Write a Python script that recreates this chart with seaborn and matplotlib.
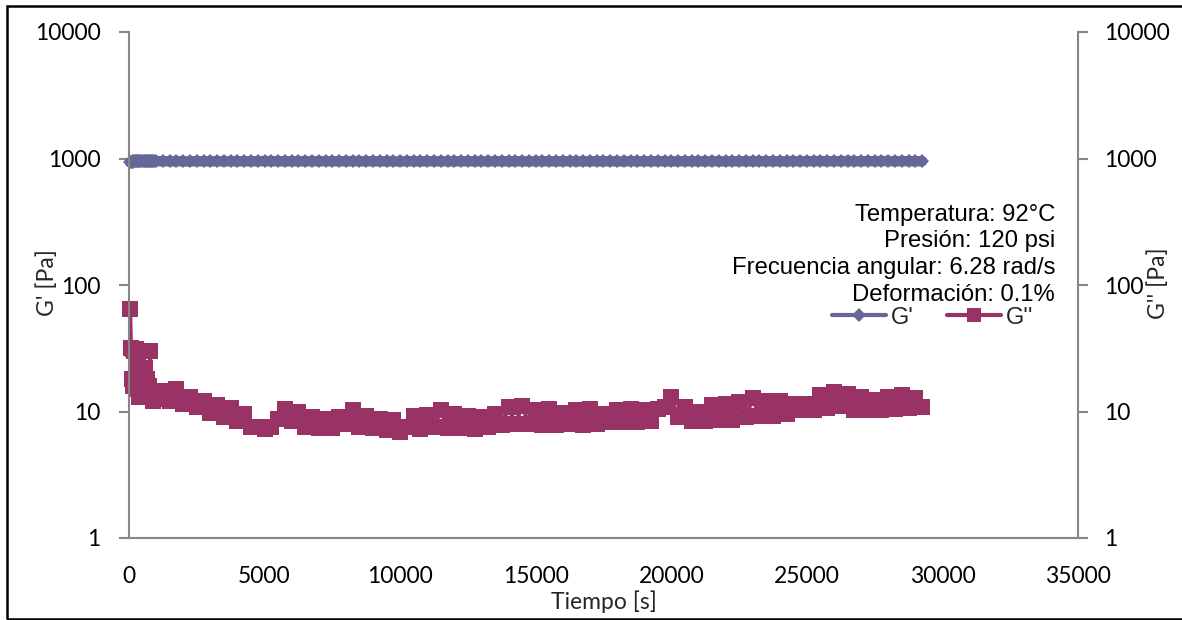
import numpy as np
import pandas as pd
import matplotlib
matplotlib.use("Agg")
import matplotlib.pyplot as plt
from matplotlib.patches import Rectangle
from matplotlib.lines import Line2D
from matplotlib.ticker import FixedLocator, FuncFormatter, NullLocator
import seaborn as sns

# ---------------- data ----------------
time_s = [40, 70, 100, 130, 160, 190, 220, 260, 300, 340, 380, 420, 460, 500, 540, 580, 620, 660, 700, 740,
          780, 820, 860, 900, 940,
          1000, 1250, 1500, 1750, 2000, 2250, 2500, 2750, 3000, 3250, 3500, 3750, 4000, 4250, 4500, 4750,
          5000, 5250, 5500, 5750, 6000, 6250, 6500, 6750, 7000, 7250, 7500, 7750, 8000, 8250, 8500, 8750,
          9000, 9250, 9500, 9750, 10000, 10250, 10500, 10750, 11000, 11250, 11500, 11750, 12000, 12250, 12500, 12750,
          13000, 13250, 13500, 13750, 14000, 14250, 14500, 14750, 15000, 15250, 15500, 15750, 16000, 16250, 16500, 16750,
          17000, 17250, 17500, 17750, 18000, 18250, 18500, 18750, 19000, 19250, 19500, 19750, 20000, 20250, 20500, 20750,
          21000, 21250, 21500, 21750, 22000, 22250, 22500, 22750, 23000, 23250, 23500, 23750, 24000, 24250, 24500, 24750,
          25000, 25250, 25500, 25750, 26000, 26250, 26500, 26750, 27000, 27250, 27500, 27750, 28000, 28250, 28500, 28750,
          29000, 29250]

g_storage = [930, 935, 940, 945, 948, 950, 948, 952, 950, 947, 951, 949, 953, 950, 948, 952, 950, 949, 951, 950,
             952, 949, 951, 950, 953,
             950, 954, 948, 952, 950, 947, 953, 950, 949, 952, 948, 951, 950, 953, 949, 951,
             955, 950, 952, 948, 954, 950, 951, 953, 949, 955, 950, 952, 948, 954, 951, 950,
             953, 949, 951, 950, 947, 952, 950, 948, 953, 950, 949, 951, 948, 952, 950, 949,
             951, 948, 952, 950, 949, 953, 950, 948, 951, 950, 952, 949, 950, 953, 948, 951,
             950, 952, 949, 951, 950, 948, 953, 950, 951, 949, 952, 950, 948, 951, 953, 950,
             951, 949, 952, 950, 948, 953, 950, 951, 949, 952, 950, 953, 951, 949, 954, 950,
             952, 951, 955, 950, 953, 951, 956, 952, 950, 954, 951, 953, 955, 950, 954, 952,
             953, 951]

g_loss = [65.0, 32.0, 18.0, 31.0, 16.0, 30.0, 17.0, 31.0, 15.0, 25.0, 13.0, 22.0, 14.0, 20.0, 13.0, 22.0,
          13.0, 18.0, 13.0, 16.0, 30.0, 13.0, 14.0, 12.0, 14.0,
          12.5, 14.5, 12.0, 15.0, 11.5, 13.0, 10.8, 12.0, 9.8, 11.2, 9.0, 10.6, 8.4, 9.6, 7.6, 7.5,
          7.3, 7.6, 8.8, 10.5, 8.4, 10.0, 7.6, 9.0, 7.4, 8.8, 7.4, 9.0, 8.0, 10.2, 7.6, 9.2,
          7.4, 8.8, 7.2, 8.6, 6.9, 7.5, 9.2, 7.3, 9.4, 7.6, 10.2, 7.4, 9.6, 7.4, 9.2, 7.3,
          9.0, 7.5, 9.5, 7.8, 10.8, 8.0, 11.0, 8.0, 10.2, 7.8, 10.4, 7.8, 9.8, 7.9, 10.2, 7.8,
          10.4, 8.0, 9.6, 8.2, 10.2, 8.2, 10.4, 8.2, 10.2, 8.4, 10.4, 10.8, 13.0, 9.0, 10.8, 8.4,
          10.0, 8.4, 11.2, 8.6, 11.4, 8.6, 11.8, 9.0, 12.8, 9.2, 12.2, 9.2, 12.0, 9.6, 11.4, 10.2,
          11.4, 10.2, 13.4, 10.6, 14.2, 11.0, 13.8, 10.2, 13.0, 10.2, 12.4, 10.2, 13.0, 10.4, 13.4, 10.6,
          12.8, 10.8]

y_ticks = [1, 10, 100, 1000, 10000]
x_ticks = [0, 5000, 10000, 15000, 20000, 25000, 30000, 35000]
info_lines = ["Temperatura: 92°C", "Presión: 120 psi",
              "Frecuencia angular: 6.28 rad/s", "Deformación: 0.1%"]

df = pd.DataFrame({"t": time_s, "g1": g_storage, "g2": g_loss})

# ---------------- style ----------------
sns.set_theme(style="white")
plt.rcParams["font.family"] = ["Lato", "DejaVu Sans"]

W, H = 1182, 620
fig = plt.figure(figsize=(W / 100, H / 100), dpi=100)
L, R, T, B = 129, 1078, 32, 538
ax = fig.add_axes([L / W, 1 - B / H, (R - L) / W, (B - T) / H])

c1 = "#666699"
c2 = "#993366"

sns.lineplot(data=df, x="t", y="g1", ax=ax, color=c1, marker="D", markersize=6.8,
             markeredgewidth=0, linewidth=7.5, estimator=None, legend=False,
             clip_on=False)
sns.lineplot(data=df, x="t", y="g2", ax=ax, color=c2, marker="s", markersize=11,
             markeredgewidth=0, linewidth=3.0, estimator=None, legend=False,
             clip_on=False)

ax.set_yscale("log")
ax.set_ylim(1, 10000)
ax.set_xlim(0, 35000)

ax2 = ax.twinx()
ax2.set_yscale("log")
ax2.set_ylim(1, 10000)

spine_c = "#868686"
for a in (ax, ax2):
    a.yaxis.set_major_locator(FixedLocator(y_ticks))
    a.yaxis.set_major_formatter(FuncFormatter(lambda v, p: f"{v:g}"))
    a.yaxis.set_minor_locator(NullLocator())
    a.spines["top"].set_visible(False)
    for s in a.spines.values():
        s.set_color(spine_c)
        s.set_linewidth(1.5)
    a.tick_params(axis="both", which="major", direction="out", length=7, width=1.5,
                  color=spine_c, labelsize=16.5, pad=13.5, labelcolor="black")
    a.grid(False)
ax2.spines["left"].set_visible(False)
ax2.spines["bottom"].set_visible(False)
ax.spines["right"].set_visible(False)
ax2.tick_params(axis="y", pad=12)

ax.xaxis.set_major_locator(FixedLocator(x_ticks))
ax.xaxis.set_major_formatter(FuncFormatter(lambda v, p: f"{int(v)}"))
ax.xaxis.set_minor_locator(NullLocator())

ax.set_xlabel("Tiempo [s]", fontsize=16.5, va="center")
ax.xaxis.set_label_coords(0.5, (B - 602) / (B - T))
ax.set_ylabel("G' [Pa]", fontsize=16.5, va="center")
ax.yaxis.set_label_coords((47 - L) / (R - L), (B - 283) / (B - T))
ax2.set_ylabel("G'' [Pa]", fontsize=16.5, va="center", rotation=90)
ax2.yaxis.set_label_coords((1158 - L) / (R - L), (B - 283) / (B - T))

# annotation text
baselines = [220.7, 247.3, 274.0, 300.7]
for txt, yb in zip(info_lines, baselines):
    fig.text(1055 / W, 1 - yb / H, txt, ha="right", va="baseline",
             fontsize=17.2, family=["Liberation Sans", "DejaVu Sans"], color="black")

# legend
handles = [Line2D([], [], color=c1, marker="D", markersize=6.8, markeredgewidth=0, linewidth=3),
           Line2D([], [], color=c2, marker="s", markersize=10, markeredgewidth=0, linewidth=3)]
ax.legend(handles, ["G'", "G''"], loc="center left", bbox_to_anchor=(832 / W, 1 - 317.7 / H),
          bbox_transform=fig.transFigure, ncol=2, frameon=False, borderpad=0,
          borderaxespad=0, handlelength=2.3, handletextpad=0.2, columnspacing=1.4,
          prop={"family": ["Liberation Sans", "DejaVu Sans"], "size": 17})

# outer chart border
fig.patches.append(Rectangle((6.5 / W, 1 - 618.5 / H), (1190 - 6.5) / W, (618.5 - 6) / H,
                             transform=fig.transFigure, fill=False, edgecolor="black",
                             linewidth=1.8, zorder=10))

fig.savefig("out.png", dpi=100)
